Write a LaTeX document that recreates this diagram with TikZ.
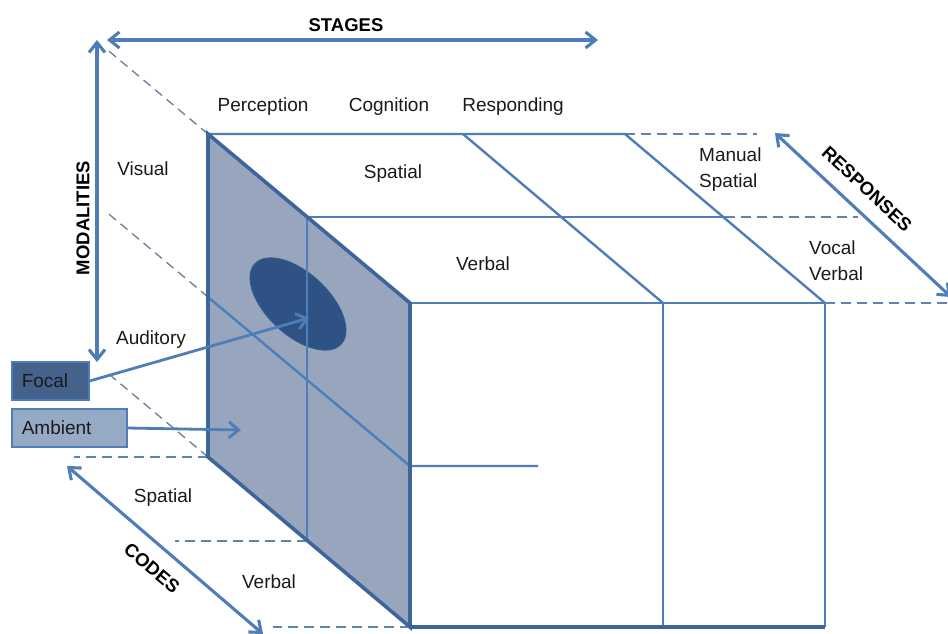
\documentclass[tikz,border=0pt]{standalone}
\usepackage{fontspec}
\setmainfont{Liberation Sans}
\usetikzlibrary{arrows.meta}
\definecolor{ln}{HTML}{4F7DB8}
\definecolor{edgec}{HTML}{3E659A}
\definecolor{panel}{HTML}{97A6BC}
\definecolor{ell}{HTML}{2F5285}
\definecolor{focalc}{HTML}{45628C}
\definecolor{ambc}{HTML}{97AAC5}
\definecolor{dshgray}{HTML}{6B7C94}
\definecolor{dshblue}{HTML}{5E83B8}
\definecolor{txtc}{HTML}{1A1A1A}
\begin{document}
\begin{tikzpicture}[x=1pt,y=-1pt,
  txt/.style={font=\fontsize{19}{26}\selectfont, text=txtc, inner sep=0pt},
  lbl/.style={font=\fontsize{18.5}{22}\selectfont\bfseries, text=black, inner sep=0pt},
  cubeline/.style={draw=ln, line width=2.4pt},
  edgeline/.style={draw=edgec, line width=3.6pt, line join=miter},
  graydash/.style={draw=dshgray, line width=1.3pt, dash pattern=on 9pt off 6pt},
  bluedash/.style={draw=dshblue, line width=1.5pt, dash pattern=on 10pt off 6pt},
  dimarrow/.style={draw=ln, line width=3.1pt, {Straight Barb[length=10pt,width=16pt]}-{Straight Barb[length=10pt,width=16pt]}},
  onearrow/.style={draw=ln, line width=2.8pt, -{Straight Barb[length=10pt,width=16pt]}},
  tagbox/.style={draw=ln, line width=1.5pt, font=\fontsize{19}{22}\selectfont, text=txtc,
     minimum height=38pt, inner xsep=10pt, align=left, anchor=west}
]
\useasboundingbox (0,0) rectangle (948,633);

% cube corners
\coordinate (A) at (208,134);
\coordinate (B) at (410,303);
\coordinate (C) at (410,627);
\coordinate (D) at (208,457);
\coordinate (E) at (825,303);
\coordinate (F) at (825,627);
\coordinate (G) at (625,134);
\coordinate (H) at (463,134);
\coordinate (I) at (663,303);
\coordinate (J) at (663,627);
\coordinate (K) at (307,217);
\coordinate (L) at (307,541);
\coordinate (M) at (725,217);
\coordinate (N) at (208,297);
\coordinate (O) at (410,466);
\coordinate (P) at (538,466);

% dashed extension ends
\coordinate (dA) at (107,49.5);
\coordinate (dN) at (107,212.5);
\coordinate (dD) at (107,372.5);
\coordinate (hD) at (74,457);
\coordinate (hL) at (175,541);
\coordinate (hC) at (273,627);
\coordinate (hG) at (757,134);
\coordinate (hM) at (858,217);
\coordinate (hE) at (948,303);

% dashed guide lines
\draw[graydash] (A) -- (dA);
\draw[graydash] (N) -- (dN);
\draw[graydash] (D) -- (dD);
\draw[bluedash] (D) -- (hD);
\draw[bluedash] (L) -- (hL);
\draw[bluedash] (C) -- (hC);
\draw[bluedash] (G) -- (hG);
\draw[bluedash] (M) -- (hM);
\draw[bluedash] (E) -- (hE);

% shaded side panel
\fill[panel] (A) -- (B) -- (C) -- (D) -- cycle;
% focal ellipse
\draw[fill=ell, draw=ell!80!ln, line width=0.8pt, rotate around={-43:(298,304)}]
  (298,304) ellipse [x radius=59pt, y radius=31pt];

% top face and front face lines
\draw[cubeline] (A) -- (G) -- (E);
\draw[cubeline] (H) -- (I);
\draw[cubeline] (K) -- (M);
\draw[cubeline] (B) -- (E) -- (F);
\draw[cubeline] (I) -- (J);
\draw[cubeline] (K) -- (L);
\draw[cubeline] (N) -- (O) -- (P);
% panel edges
\draw[edgeline] (A) -- (B) -- (C) -- (D) -- cycle;
\draw[edgeline] (C) -- (F);

% dimension arrows
\coordinate (s1) at (107,40);
\coordinate (s2) at (598,40);
\coordinate (m1) at (97,40);
\coordinate (m2) at (97,362);
\coordinate (r1) at (775,133);
\coordinate (r2) at (951,297);
\coordinate (c1) at (67,466);
\coordinate (c2) at (263,634);
\draw[dimarrow] (s1) -- (s2);
\draw[dimarrow] (m1) -- (m2);
\draw[dimarrow] (r1) -- (r2);
\draw[dimarrow] (c1) -- (c2);

% Focal / Ambient boxes
\node[tagbox, fill=focalc, text width=57pt] (focal) at (11,381) {Focal};
\node[tagbox, fill=ambc, text width=95pt] (ambient) at (11,428) {Ambient};
\coordinate (ftip) at (309,318);
\coordinate (atip) at (241,430);
\draw[onearrow] (focal.east) -- (ftip);
\draw[onearrow] (ambient.east) -- (atip);

% labels
\node[lbl] (stages) at (346,25) {STAGES};
\node[lbl, rotate=90] (modal) at (83,218) {MODALITIES};
\node[lbl, rotate=-43] (respo) at (867,189) {RESPONSES};
\node[lbl, rotate=-40] (codes) at (152,568) {CODES};

\node[txt] (perc) at (263,107) {Perception};
\node[txt] (cogn) at (389,107) {Cognition};
\node[txt] (resp) at (513,107) {Responding};
\node[txt] (vis) at (143,169) {Visual};
\node[txt] (aud) at (151,340) {Auditory};
\node[txt] (tsp) at (393,174) {Spatial};
\node[txt] (tvb) at (483,264) {Verbal};
\node[txt, align=left, anchor=west] (mansp) at (699,170) {Manual\\Spatial};
\node[txt, align=left, anchor=west] (vocvb) at (809,261) {Vocal\\Verbal};
\node[txt] (csp) at (163,498) {Spatial};
\node[txt] (cvb) at (269,582) {Verbal};
\end{tikzpicture}
\end{document}
